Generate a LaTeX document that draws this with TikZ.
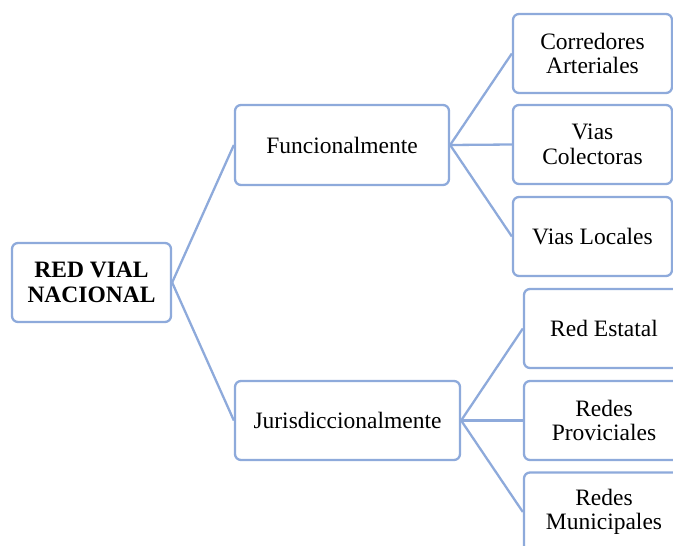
\documentclass[tikz,border=0pt]{standalone}
\usepackage{fontspec}
\setmainfont{Liberation Serif}
\definecolor{boxblue}{HTML}{8EAADB}
\begin{document}
\begin{tikzpicture}[x=1pt,y=-1pt,
  box/.style={draw=boxblue, line width=2.3pt, rounded corners=6pt, fill=white,
    align=center, inner sep=2pt, font=\fontsize{23.5}{24.5}\selectfont},
  link/.style={draw=boxblue, line width=2.3pt}]
  \useasboundingbox (0,0) rectangle (673,546);
  \begin{scope}
  \clip (0,0) rectangle (673,546);
  % root
  \node[box, minimum width=159pt, minimum height=79pt, font=\fontsize{23.5}{24.5}\selectfont\bfseries]
    (root) at (91.5,282.5) {RED VIAL\\NACIONAL};
  % second level
  \node[box, minimum width=214pt, minimum height=80pt] (func) at (342,145) {Funcionalmente};
  \node[box, minimum width=225pt, minimum height=79pt] (juris) at (347.5,420.5) {Jurisdiccionalmente};
  % functional classes
  \node[box, minimum width=159pt, minimum height=79pt] (corr) at (592.5,53.5) {Corredores\\Arteriales};
  \node[box, minimum width=159pt, minimum height=79pt] (colec) at (592.5,144.5) {Vias\\Colectoras};
  \node[box, minimum width=159pt, minimum height=79pt] (loc) at (592.5,236.5) {Vias Locales};
  % jurisdictional classes
  \node[box, minimum width=160pt, minimum height=79pt] (est) at (604,328.5) {Red Estatal};
  \node[box, minimum width=160pt, minimum height=79pt] (prov) at (604,420.5) {Redes\\Proviciales};
  \node[box, minimum width=160pt, minimum height=79pt] (mun) at (604,512) {Redes\\Municipales};
  % connectors
  \draw[link] (root.east) -- (func.west);
  \draw[link] (root.east) -- (juris.west);
  \draw[link] (func.east) -- (corr.west);
  \draw[link] (func.east) -- (colec.west);
  \draw[link] (func.east) -- (loc.west);
  \draw[link] (juris.east) -- (est.west);
  \draw[link] (juris.east) -- (prov.west);
  \draw[link] (juris.east) -- (mun.west);
  \end{scope}
\end{tikzpicture}
\end{document}
